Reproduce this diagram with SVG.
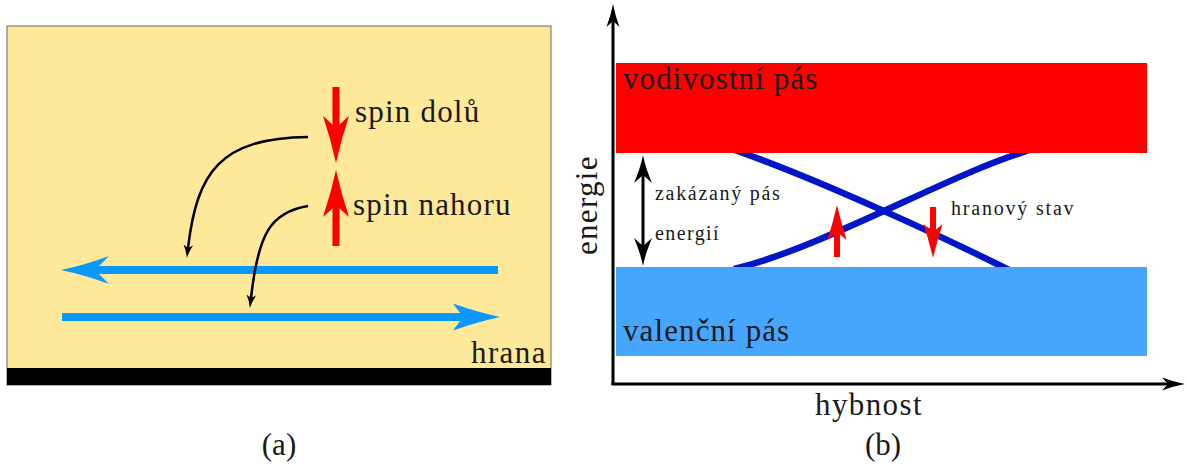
<svg xmlns="http://www.w3.org/2000/svg" width="1187" height="472" viewBox="0 0 1187 472">
<defs>
<marker id="tip" viewBox="-4 -6 14 12" refX="0" refY="0" markerWidth="14" markerHeight="12" markerUnits="userSpaceOnUse" orient="auto">
<path d="M10,0 Q3,-1.5 -3,-4.8 L0,0 L-3,4.8 Q3,1.5 10,0 Z" fill="#000"/>
</marker>
<marker id="axh" viewBox="-8 -8 26 16" refX="0" refY="0" markerWidth="26" markerHeight="16" markerUnits="userSpaceOnUse" orient="auto">
<path d="M17,0 Q6,-2 -6,-6.5 L0,0 L-6,6.5 Q6,2 17,0 Z" fill="#000"/>
</marker>
<marker id="dbl" viewBox="-10 -10 32 20" refX="0" refY="0" markerWidth="32" markerHeight="20" markerUnits="userSpaceOnUse" orient="auto-start-reverse">
<path d="M20,0 Q7,-2.5 -8,-9 L0,0 L-8,9 Q7,2.5 20,0 Z" fill="#000"/>
</marker>
</defs>

<g id="panel-a">
<rect id="edge-region" x="7" y="26" width="544" height="359" fill="#fee899" stroke="#666" stroke-width="1"/>
<rect id="edge-bar" x="7" y="368" width="544" height="17" fill="#000"/>
</g>

<g id="spin-down" fill="#ff0000">
<rect x="332.5" y="87" width="7" height="42"/>
<path d="M336,163 Q331,140 323,116 Q331,123 336,128 Q341,123 349,116 Q341,140 336,163 Z"/>
<text x="355" y="122" font-family="Liberation Serif, serif" font-size="31" letter-spacing="1.2" fill="#1a1a1a">spin dolů</text>
</g>

<g id="spin-up" fill="#ff0000">
<rect x="332.5" y="205" width="7" height="41"/>
<path d="M336,170 Q331,193 323,217 Q331,210 336,205 Q341,210 349,217 Q341,193 336,170 Z"/>
<text x="353" y="215" font-family="Liberation Serif, serif" font-size="31" letter-spacing="1.2" fill="#1a1a1a">spin nahoru</text>
</g>

<g id="edge-left" fill="#0a98fc">
<rect x="94" y="266" width="404" height="8"/>
<path d="M61,270 Q85,265 109,256 L95,270 L109,284 Q85,275 61,270 Z"/>
</g>

<g id="edge-right" fill="#0a98fc">
<rect x="62" y="313" width="402" height="8"/>
<path d="M500,317 Q477,312 453,303.5 L463,317 L453,330.5 Q477,322 500,317 Z"/>
</g>

<g id="label-hrana">
<text x="471" y="363" font-family="Liberation Serif, serif" font-size="31" letter-spacing="1.4" fill="#1a1a1a">hrana</text>
</g>

<g id="caption-a">
<text x="279" y="455" font-family="Liberation Serif, serif" font-size="31" fill="#1a1a1a" text-anchor="middle">(a)</text>
</g>

<g id="panel-b-curves" fill="none" stroke="#0016c8" stroke-width="6.5">
<path d="M735,150 L743,153 C822,181 945,238 1003,267 L1011,271"/>
<path d="M734,269 L742,267 C828,244 950,175 1021,153 L1029,150"/>
</g>

<g id="conduction-band">
<rect x="616" y="63" width="531" height="90" fill="#ff0000"/>
<text x="623" y="89" font-family="Liberation Serif, serif" font-size="31" letter-spacing="1.1" fill="#1a1a1a">vodivostní pás</text>
</g>

<g id="valence-band">
<rect x="616" y="267" width="531" height="89" fill="#46a6fe"/>
<text x="623" y="341" font-family="Liberation Serif, serif" font-size="31" letter-spacing="1.1" fill="#1a1a1a">valenční pás</text>
</g>

<g id="band-gap">
<text x="655" y="200" font-family="Liberation Serif, serif" font-size="20" letter-spacing="1.7" fill="#1a1a1a">zakázaný pás</text>
<text x="655" y="240" font-family="Liberation Serif, serif" font-size="20" letter-spacing="1.4" fill="#1a1a1a">energií</text>
</g>

<g id="edge-state" fill="#ff0000">
<rect x="834" y="230" width="6" height="27"/>
<path d="M837,205 Q833,222 827.5,240 L837,232 L846.5,240 Q841,222 837,205 Z"/>
<rect x="930" y="207" width="6" height="26"/>
<path d="M933,258 Q929,241 923.5,224 L933,232 L942.5,224 Q937,241 933,258 Z"/>
<text x="951" y="215" font-family="Liberation Serif, serif" font-size="20" letter-spacing="1.8" fill="#1a1a1a">hranový stav</text>
</g>

<g id="axis-labels">
<text transform="translate(597,255) rotate(-90)" x="0" y="0" font-family="Liberation Serif, serif" font-size="31" letter-spacing="1.3" fill="#1a1a1a">energie</text>
<text x="815" y="415" font-family="Liberation Serif, serif" font-size="31" letter-spacing="1.4" fill="#1a1a1a">hybnost</text>
</g>

<g id="caption-b">
<text x="883" y="455" font-family="Liberation Serif, serif" font-size="31" fill="#1a1a1a" text-anchor="middle">(b)</text>
</g>

<g id="connectors" fill="none" stroke="#000">
<path stroke-width="2.5" d="M308,137 C220,138 197,172 188,248" marker-end="url(#tip)"/>
<path stroke-width="2.5" d="M308,206 C270,212 258,235 251,298" marker-end="url(#tip)"/>
<path stroke-width="3" d="M613,385 L613,21" marker-end="url(#axh)"/>
<path stroke-width="3" d="M611.5,384 L1168,384" marker-end="url(#axh)"/>
<path stroke-width="3" d="M643,175 L643,246" marker-start="url(#dbl)" marker-end="url(#dbl)"/>
</g>
</svg>
